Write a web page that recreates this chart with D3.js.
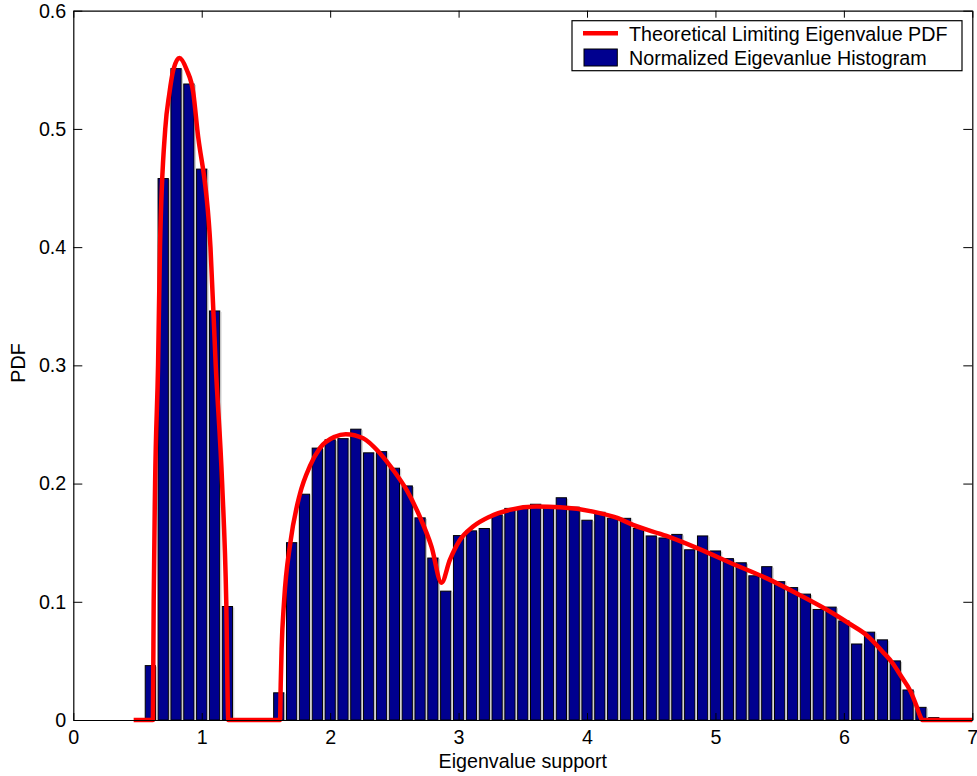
<!DOCTYPE html>
<html>
<head>
<meta charset="utf-8">
<script src="https://cdnjs.cloudflare.com/ajax/libs/d3/7.8.5/d3.min.js"></script>
<style>
  html, body { margin: 0; padding: 0; background: #fff; }
  svg { display: block; }
  text { font-family: "Liberation Sans", Arial, Helvetica, sans-serif; fill: #000; }
</style>
</head>
<body>
<div id="chart"></div>
<script>
// ---- data ----
const binCenters = [0.6,0.7,0.8,0.9,1.0,1.1,1.2,1.3,1.4,1.5,1.6,1.7,1.8,1.9,2.0,2.1,2.2,2.3,2.4,2.5,2.6,2.7,2.8,2.9,3.0,3.1,3.2,3.3,3.4,3.5,3.6,3.7,3.8,3.9,4.0,4.1,4.2,4.3,4.4,4.5,4.6,4.7,4.8,4.9,5.0,5.1,5.2,5.3,5.4,5.5,5.6,5.7,5.8,5.9,6.0,6.1,6.2,6.3,6.4,6.5,6.6,6.7];
const histValues = [0.046,0.458,0.551,0.538,0.466,0.346,0.096,0,0,0,0.023,0.150,0.191,0.230,0.237,0.238,0.246,0.226,0.227,0.213,0.198,0.171,0.137,0.109,0.156,0.160,0.162,0.1735,0.179,0.179,0.1825,0.181,0.188,0.180,0.169,0.1757,0.1707,0.1706,0.162,0.1557,0.154,0.157,0.144,0.1557,0.143,0.1365,0.133,0.122,0.1297,0.117,0.112,0.1065,0.0935,0.0955,0.0838,0.0643,0.0743,0.0678,0.050,0.0254,0.0107,0.002];

const pdfX = [0.47,0.62,0.622,0.626,0.637,0.66,0.675,0.716,0.748,0.779,0.826,0.883,0.935,0.965,1.068,1.109,1.159,1.191,1.207,1.61,1.615,1.622,1.641,1.69,1.764,1.842,1.92,2.036,2.122,2.257,2.387,2.49,2.595,2.698,2.789,2.867,2.932,3.009,3.113,3.243,3.398,3.606,3.788,4.047,4.241,4.358,4.618,4.877,5.136,5.396,5.655,5.914,6.05,6.18,6.30,6.38,6.44,6.52,6.565,6.595,6.61,7.0];
const pdfY = [0,0,0.03,0.1,0.2,0.3,0.4,0.5,0.53,0.55,0.56,0.55,0.53,0.5,0.4,0.3,0.2,0.1,0,0,0.03,0.06,0.1,0.150,0.191,0.2147,0.230,0.2396,0.2418,0.2384,0.2257,0.2116,0.1946,0.172,0.1467,0.1162,0.1354,0.152,0.1636,0.172,0.1777,0.1805,0.1799,0.1763,0.1707,0.165,0.1557,0.1445,0.132,0.120,0.1058,0.0903,0.081,0.0715,0.058,0.048,0.038,0.024,0.012,0.003,0,0];

const xTicks = [0,1,2,3,4,5,6,7];
const yTicks = [0,0.1,0.2,0.3,0.4,0.5,0.6];
const legendLabels = ["Theoretical Limiting Eigenvalue PDF", "Normalized Eigevanlue Histogram"];
const xLabel = "Eigenvalue support";
const yLabel = "PDF";

// ---- layout ----
const W = 977, H = 776;
const L = 73.3, R = 972.3, T = 10.7, B = 720;
const fontSize = 19.7;
const barColor = "#00008F";

const svg = d3.select("#chart").append("svg").attr("width", W).attr("height", H);

const x = d3.scaleLinear().domain([0, 7]).range([L, R]);
const y = d3.scaleLinear().domain([0, 0.6]).range([B, T]);

// bars
const binW = 0.1, barFrac = 0.8;
const bars = svg.append("g");
const histData = binCenters.map((c, i) => ({c, v: histValues[i]})).filter(d => d.v > 0);
bars.selectAll("rect.bar").data(histData).enter().append("rect")
  .attr("class", "bar")
  .attr("x", d => x(d.c - binW * barFrac / 2))
  .attr("width", d => x(d.c + binW * barFrac / 2) - x(d.c - binW * barFrac / 2))
  .attr("y", d => y(d.v))
  .attr("height", d => y(0) - y(d.v))
  .attr("fill", barColor)
  .attr("stroke", "#000")
  .attr("stroke-width", 1);
bars.selectAll("line.shade").data(histData).enter().append("line")
  .attr("class", "shade")
  .attr("x1", d => x(d.c + binW * barFrac / 2) + 1.2)
  .attr("x2", d => x(d.c + binW * barFrac / 2) + 1.2)
  .attr("y1", d => y(d.v) + 1)
  .attr("y2", y(0))
  .attr("stroke", "#c4c4c4")
  .attr("stroke-width", 1);

// curve
const pdfData = pdfX.map((v, i) => [v, pdfY[i]]);
const line = d3.line().x(d => x(d[0])).y(d => y(d[1])).curve(d3.curveMonotoneX);
svg.append("path").datum(pdfData)
  .attr("d", line)
  .attr("fill", "none")
  .attr("stroke", "#FF0000")
  .attr("stroke-width", 4.5)
  .attr("stroke-linejoin", "round");

// axes
const styleAxis = g => {
  g.selectAll("path.domain").attr("stroke", "#000").attr("stroke-width", 1.2);
  g.selectAll(".tick line").attr("stroke", "#000").attr("stroke-width", 1);
  g.selectAll(".tick text").style("font-size", fontSize + "px").attr("font-family", null).attr("fill", "#000");
};
svg.append("g").attr("transform", `translate(0,${B})`)
  .call(d3.axisBottom(x).tickValues(xTicks).tickFormat(d3.format("d")).tickSizeInner(-7).tickSizeOuter(0).tickPadding(10.5))
  .call(styleAxis);
svg.append("g").attr("transform", `translate(0,${T})`)
  .call(d3.axisTop(x).tickValues(xTicks).tickFormat("").tickSizeInner(-7).tickSizeOuter(0))
  .call(styleAxis);
svg.append("g").attr("transform", `translate(${L},0)`)
  .call(d3.axisLeft(y).tickValues(yTicks).tickFormat(d => d === 0 ? "0" : d3.format(".1f")(d)).tickSizeInner(-9).tickSizeOuter(0).tickPadding(7))
  .call(styleAxis);
svg.append("g").attr("transform", `translate(${R},0)`)
  .call(d3.axisRight(y).tickValues(yTicks).tickFormat("").tickSizeInner(-9).tickSizeOuter(0))
  .call(styleAxis);

// axis labels
svg.append("text").attr("x", (L + R) / 2).attr("y", 768)
  .attr("text-anchor", "middle").style("font-size", fontSize + "px").text(xLabel);
svg.append("text").attr("transform", "translate(25,363) rotate(-90)")
  .attr("text-anchor", "middle").style("font-size", fontSize + "px").text(yLabel);

// legend
const lg = svg.append("g");
lg.append("rect").attr("x", 572).attr("y", 20.7).attr("width", 390).attr("height", 50)
  .attr("fill", "#fff").attr("stroke", "#000").attr("stroke-width", 1.2);
lg.append("line").attr("x1", 583).attr("x2", 618).attr("y1", 33.3).attr("y2", 33.3)
  .attr("stroke", "#FF0000").attr("stroke-width", 4.5);
lg.append("rect").attr("x", 584).attr("y", 49).attr("width", 33.3).attr("height", 17)
  .attr("fill", barColor).attr("stroke", "#000").attr("stroke-width", 1);
lg.selectAll("text.leg").data(legendLabels).enter().append("text")
  .attr("class", "leg")
  .attr("x", 629).attr("y", (d, i) => i === 0 ? 41 : 64.5)
  .style("font-size", fontSize + "px").text(d => d);
</script>
</body>
</html>
